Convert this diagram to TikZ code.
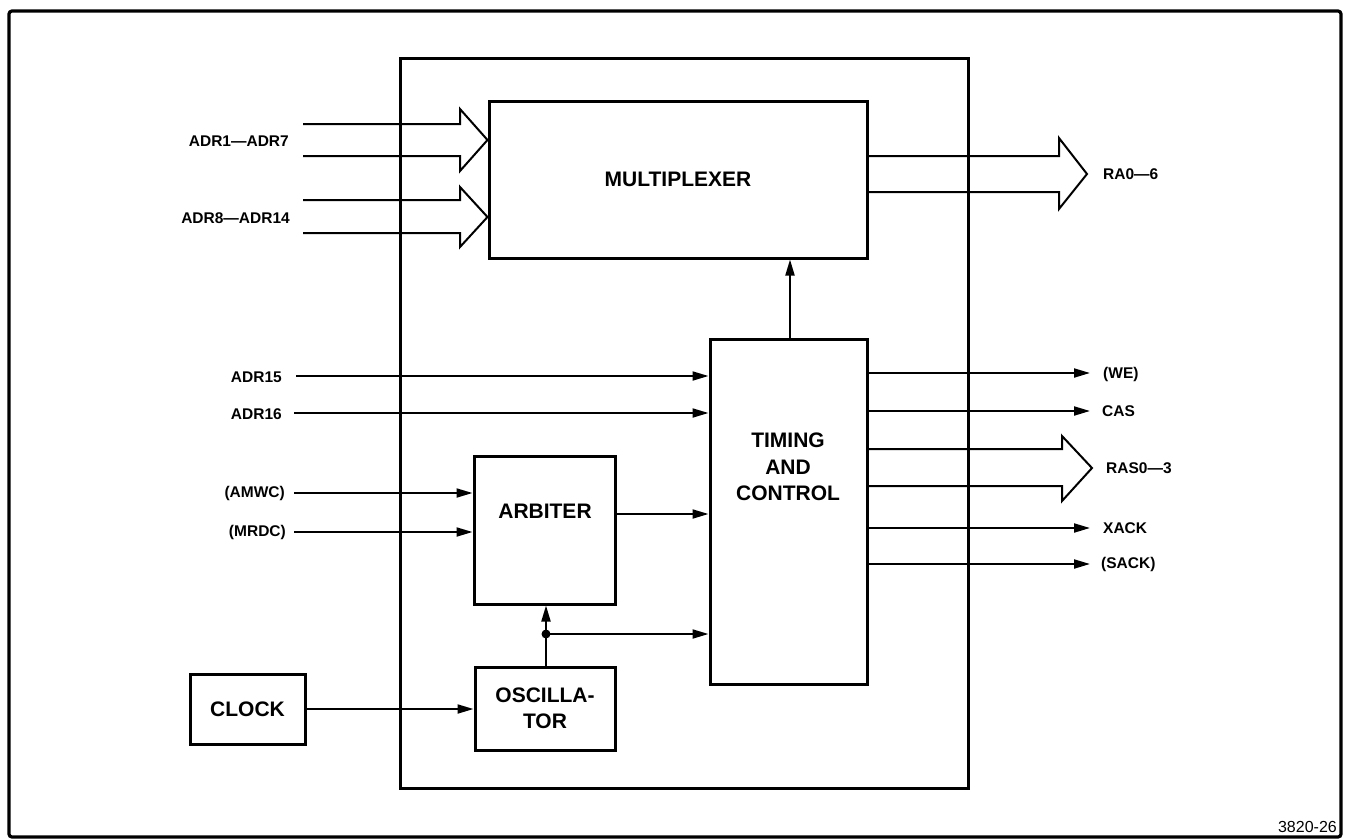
\documentclass[tikz,border=0pt]{standalone}
\usepackage{fontspec}
\setmainfont{Liberation Sans}
\usetikzlibrary{arrows.meta,calc}
\begin{document}
\begin{tikzpicture}[x=1pt,y=-1pt,
 box/.style={draw, line width=3pt, inner sep=0pt, align=center, font=\fontsize{21}{26}\selectfont\bfseries},
 boxtext/.style={inner sep=0pt, align=center, font=\fontsize{21}{26.5}\selectfont\bfseries},
 lbl/.style={font=\fontsize{15.5}{18}\selectfont\bfseries, inner sep=0pt},
 sig/.style={line width=2pt, -{Triangle[length=16pt,width=9pt]}},
 bus/.style={line width=2pt, line join=miter},
]
\useasboundingbox (0,0) rectangle (1345,839);
% outer frame
\draw[line width=3.2pt, rounded corners=3pt] (9,11) rectangle (1341,837);
% boxes
\node[box, minimum width=568pt, minimum height=730pt] (inner) at (684,423) {};
\node[box, minimum width=378pt, minimum height=157pt] (mux) at (678,179.5) {MULTIPLEXER};
\node[box, minimum width=157pt, minimum height=345pt] (tc) at (788.5,511.5) {};
\node[boxtext] (tctext) at (788,467) {TIMING\\AND\\CONTROL};
\node[box, minimum width=141pt, minimum height=148pt] (arb) at (544.5,530) {};
\node[boxtext] (arbtext) at (545,511) {ARBITER};
\node[box, minimum width=140pt, minimum height=83pt] (osc) at (545,708.5) {OSCILLA-\\TOR};
\node[box, minimum width=115pt, minimum height=70pt] (clk) at (247.5,709) {CLOCK};
% input buses
\draw[bus] (303,124) -- (460,124) -- (460,109) -- (mux.west |- 0,140) -- (460,171) -- (460,156) -- (303,156);
\node[lbl, anchor=east] (ladr1) at (289,141) {ADR1—ADR7};
\draw[bus] (303,200) -- (460,200) -- (460,187) -- (mux.west |- 0,217) -- (460,247) -- (460,233) -- (303,233);
\node[lbl, anchor=east] (ladr8) at (290,218) {ADR8—ADR14};
% output buses
\draw[bus] (mux.east |- 0,156) -- (1059,156) -- (1059,138) -- (1087,174) -- (1059,209) -- (1059,192) -- (mux.east |- 0,192);
\node[lbl, anchor=west] (lra) at (1103,174) {RA0—6};
\draw[bus] (tc.east |- 0,449) -- (1062,449) -- (1062,436) -- (1092,468) -- (1062,501) -- (1062,486) -- (tc.east |- 0,486);
\node[lbl, anchor=west] (lras) at (1106,468) {RAS0—3};
% single inputs
\coordinate (i15) at (296,376);
\coordinate (i16) at (294,413);
\coordinate (iamwc) at (294,493);
\coordinate (imrdc) at (294,532);
\draw[sig] (i15) -- (i15 -| tc.west);
\draw[sig] (i16) -- (i16 -| tc.west);
\draw[sig] (iamwc) -- (iamwc -| arb.west);
\draw[sig] (imrdc) -- (imrdc -| arb.west);
\node[lbl, anchor=east] (l15) at (282,377) {ADR15};
\node[lbl, anchor=east] (l16) at (282,414) {ADR16};
\node[lbl, anchor=east] (lamwc) at (285,493) {(AMWC)};
\node[lbl, anchor=east] (lmrdc) at (286,532) {(MRDC)};
% single outputs
\coordinate (owe) at (1090,373);
\coordinate (ocas) at (1090,411);
\coordinate (oxack) at (1090,528);
\coordinate (osack) at (1090,564);
\draw[sig] (owe -| tc.east) -- (owe);
\draw[sig] (ocas -| tc.east) -- (ocas);
\draw[sig] (oxack -| tc.east) -- (oxack);
\draw[sig] (osack -| tc.east) -- (osack);
\node[lbl, anchor=west] (lwe) at (1103,374) {(WE)};
\node[lbl, anchor=west] (lcas) at (1102,411) {CAS};
\node[lbl, anchor=west] (lxack) at (1103,528) {XACK};
\node[lbl, anchor=west] (lsack) at (1101,564) {(SACK)};
% internal connections
\draw[sig] (tc.north -| 790,0) -- (mux.south -| 790,0);
\draw[sig] (arb.east |- 0,514) -- (tc.west |- 0,514);
\coordinate (jn) at (546,634);
\draw[line width=2pt] (osc.north -| jn) -- (jn);
\draw[sig] (jn) -- (arb.south -| jn);
\draw[sig] (jn) -- (jn -| tc.west);
\fill (jn) circle (4.5pt);
\draw[sig] (clk.east) -- (clk.east -| osc.west);
% figure number
\node[inner sep=0pt, anchor=east, font=\fontsize{16}{18}\selectfont] (fig) at (1337,827) {3820-26};
\end{tikzpicture}
\end{document}
